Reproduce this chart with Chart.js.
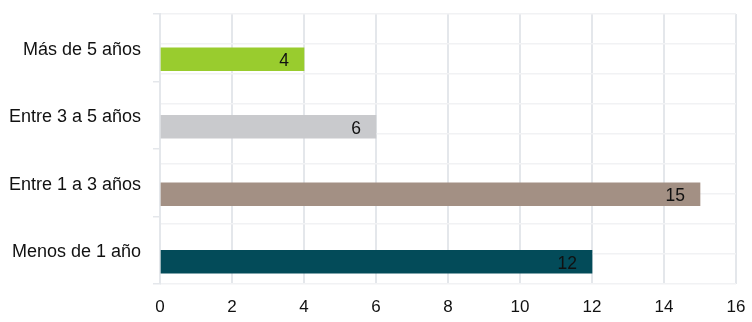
<!DOCTYPE html>
<html>
<head>
<meta charset="utf-8">
<script src="https://cdn.jsdelivr.net/npm/chart.js@4"></script>
<style>
  html, body { margin: 0; padding: 0; background: #fff; }
  #wrap { width: 752px; height: 322px; }
</style>
</head>
<body>
<div id="wrap"><canvas id="antiguedad"></canvas></div>
<script>
// datos
const categorias = ['Más de 5 años', 'Entre 3 a 5 años', 'Entre 1 a 3 años', 'Menos de 1 año'];
const valores = [4, 6, 15, 12];
const colores = ['#99cc2e', '#c9cacd', '#a39084', '#034b59'];
const ticksX = [0, 2, 4, 6, 8, 10, 12, 14, 16];

const fuente = "'Liberation Sans Narrow', 'Arial Narrow', 'Liberation Sans', Arial, sans-serif";

// etiquetas dentro del extremo de cada barra
const etiquetasBarras = {
  id: 'etiquetasBarras',
  afterDatasetsDraw(chart) {
    const ctx = chart.ctx;
    const meta = chart.getDatasetMeta(1);
    ctx.save();
    ctx.font = '17.5px ' + fuente;
    ctx.fillStyle = '#111';
    ctx.textAlign = 'right';
    ctx.textBaseline = 'middle';
    meta.data.forEach((bar, i) => {
      ctx.fillText(String(valores[i]), bar.x - 15, bar.y + 2);
    });
    ctx.restore();
  }
};

new Chart(document.getElementById('antiguedad').getContext('2d'), {
  type: 'bar',
  data: {
    labels: categorias,
    datasets: [
      { label: 'vacío', data: categorias.map(() => null), backgroundColor: 'rgba(0,0,0,0)' },
      { label: 'Antigüedad', data: valores, backgroundColor: colores, borderWidth: 0 }
    ]
  },
  options: {
    indexAxis: 'y',
    responsive: true,
    maintainAspectRatio: false,
    animation: false,
    datasets: { bar: { barThickness: 23 } },
    layout: { padding: { top: 14, right: 0, bottom: 4, left: 0 } },
    plugins: { legend: { display: false }, tooltip: { enabled: false } },
    scales: {
      x: {
        min: 0,
        max: 16,
        afterBuildTicks: (scale) => { scale.ticks = ticksX.map(v => ({ value: v })); },
        afterFit: (scale) => { scale.height = 34; scale.paddingRight = 16; },
        grid: { color: '#e4e7eb', lineWidth: 2, drawTicks: false },
        border: { display: false },
        ticks: { color: '#111', font: { size: 17, family: fuente }, padding: 13 }
      },
      y: {
        afterFit: (scale) => { scale.width = 160; scale.paddingTop = 0; scale.paddingBottom = 0; },
        grid: { offset: true, color: 'rgba(0,0,0,0)', tickColor: '#e4e7eb', tickLength: 7, lineWidth: 1.5 },
        border: { display: true, color: '#e4e7eb', width: 2 },
        ticks: { color: '#111', font: { size: 18, family: fuente }, padding: 12, labelOffset: 2 }
      },
      y2: {
        type: 'linear',
        position: 'right',
        min: 0,
        max: 8,
        afterFit: (scale) => { scale.width = 0; scale.paddingTop = 0; scale.paddingBottom = 0; },
        ticks: { display: false, stepSize: 1 },
        grid: { color: '#f1f2f4', lineWidth: 1.5, drawTicks: false },
        border: { display: false }
      }
    }
  },
  plugins: [etiquetasBarras]
});
</script>
</body>
</html>
